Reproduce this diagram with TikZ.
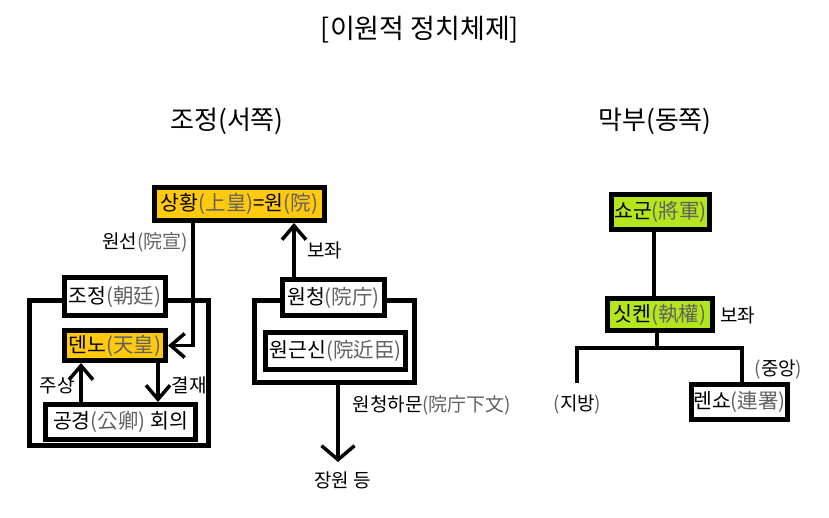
\documentclass[tikz,border=0pt]{standalone}
\usepackage{fontspec}
\setmainfont{Noto Sans CJK KR}
\usetikzlibrary{arrows.meta}
\definecolor{orng}{RGB}{255,201,14}
\definecolor{limegr}{RGB}{181,230,29}
\newcommand\hj[1]{\textcolor{black!62}{#1}}
\begin{document}
\begin{tikzpicture}[x=1pt,y=-1pt,
 box/.style={draw, line width=5pt, inner sep=0pt, fill=white, font=\fontsize{20.5}{24}\selectfont},
 frame/.style={draw, line width=5pt, inner sep=0pt},
 lbl/.style={font=\fontsize{19}{22}\selectfont, inner sep=0pt},
 head/.style={font=\fontsize{26}{30}\selectfont, inner sep=0pt},
 arr/.style={line width=3.5pt, -{Straight Barb[length=14pt,width=24pt]}},
 link/.style={line width=4.5pt}]
\useasboundingbox (0,0) rectangle (829,518);

% headings
\node[head, font=\fontsize{27}{30}\selectfont] (title) at (420,30) {[이원적 정치체제]};
\node[head] (hw) at (227,121) {조정(서쪽)};
\node[head] (he) at (655,121) {막부(동쪽)};

% west frames
\node[frame, minimum width=179pt, minimum height=145pt] (jf) at (119,373) {};
\node[frame, minimum width=160pt, minimum height=82pt] (wf) at (334.5,341.5) {};

% west boxes
\node[box, fill=orng, minimum width=170pt, minimum height=33pt] (sh) at (239.5,204) {상황\hj{(上皇)}=원\hj{(院)}};
\node[box, minimum width=101pt, minimum height=38pt] (jj) at (115,296.5) {조정\hj{(朝廷)}};
\node[box, fill=orng, minimum width=101pt, minimum height=30pt] (dn) at (115,345.5) {덴노\hj{(天皇)}};
\node[box, minimum width=150pt, minimum height=35pt] (gg) at (120.5,422) {공경\hj{(公卿)} 회의};
\node[box, minimum width=102pt, minimum height=36pt] (wc) at (333.5,297.5) {원청\hj{(院庁)}};
\node[box, minimum width=140pt, minimum height=37pt] (wg) at (335.5,351) {원근신\hj{(院近臣)}};

% west labels
\node[lbl] (lws) at (145,242) {원선\hj{(院宣)}};
\node[lbl] (lbz) at (324.5,250) {보좌};
\node[lbl] (ljs) at (57,385) {주상};
\node[lbl] (lgj) at (189,385) {결재};
\node[lbl] (lwh) at (432,405) {원청하문\hj{(院庁下文)}};
\node[lbl] (jw) at (342.5,480) {장원 등};

% west connectors
\coordinate (xws) at (193,0);
\coordinate (xbz) at (294,0);
\coordinate (xjs) at (81,0);
\coordinate (xgj) at (158,0);
\coordinate (xwh) at (338,0);
\coordinate (jwtip) at (338,462);
\draw[arr] (sh.south -| xws) |- (dn.east);
\draw[arr] (wc.north -| xbz) -- (sh.south -| xbz);
\draw[arr] (gg.north -| xjs) -- (dn.south -| xjs);
\draw[arr] (dn.south -| xgj) -- (gg.north -| xgj);
\draw[line width=3.5pt, -{Straight Barb[length=14pt,width=33pt]}] (wf.south -| xwh) -- (jwtip);

% east boxes
\node[box, fill=limegr, minimum width=98pt, minimum height=35pt] (sg) at (660.5,212) {쇼군\hj{(將軍)}};
\node[box, fill=limegr, minimum width=105pt, minimum height=32pt] (sk) at (660,314.5) {싯켄\hj{(執權)}};
\node[box, minimum width=96pt, minimum height=35pt] (rs) at (739.5,402) {렌쇼\hj{(連署)}};

% east labels
\node[lbl] (lbz2) at (737.5,315) {보좌};
\node[lbl] (ljo) at (778.5,370) {\hj{(}중앙\hj{)}};
\node[lbl] (ljb) at (577.5,405) {\hj{(}지방\hj{)}};

% east connectors
\coordinate (xsg) at (654,0);
\coordinate (br) at (657,348);
\coordinate (bl) at (577,348);
\coordinate (brr) at (742,348);
\coordinate (jbend) at (577,383);
\draw[link] (sg.south -| xsg) -- (sk.north -| xsg);
\draw[link] (sk.south -| br) -- (br);
\draw[link] (jbend) -- (bl) -- (brr) -- (rs.north -| brr);
\end{tikzpicture}
\end{document}
